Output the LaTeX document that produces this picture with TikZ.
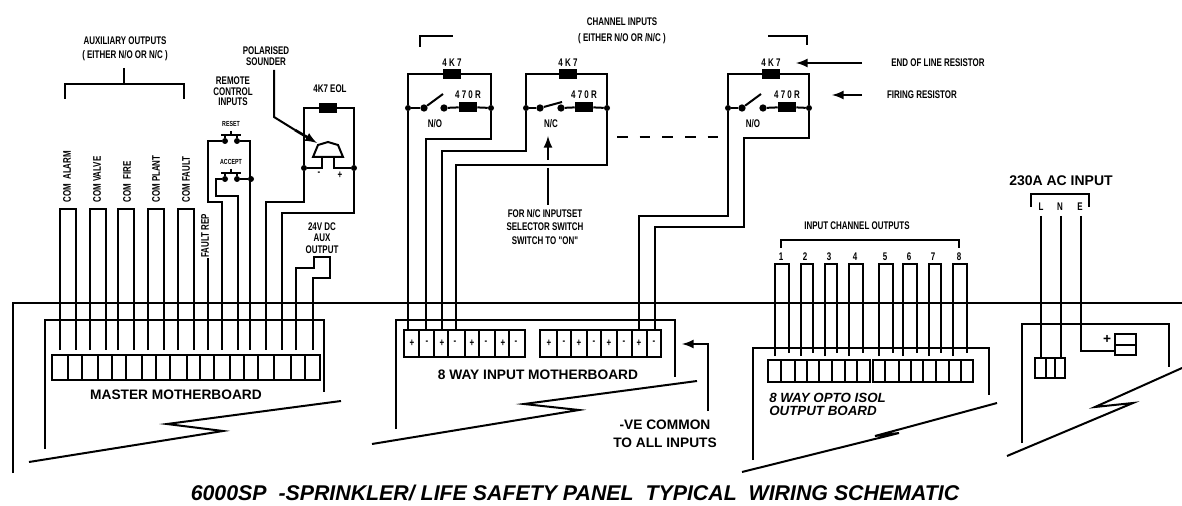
\documentclass[tikz,border=0pt]{standalone}
\usepackage{fontspec}
\setmainfont{Liberation Sans}
\newfontfamily\narrowfont[FakeStretch=0.72]{Liberation Sans}
\usetikzlibrary{positioning}

\begin{document}
\begin{tikzpicture}[x=.75pt,y=-.75pt,
	wire/.style={line width=1.5pt},
	panel/.style={line width=1.9pt},
	arrowline/.style={line width=2pt,-latex},
	res/.style={fill=black,minimum width=13.5pt,minimum height=7pt,inner sep=0pt},
	dot/.style={circle,fill=black,minimum size=4.5pt,inner sep=0pt},
	lbl/.style={font=\narrowfont\bfseries\fontsize{8.3}{9}\selectfont,inner sep=0pt},
	sidelbl/.style={lbl,rotate=90,anchor=west},
	big/.style={font=\bfseries\fontsize{10.3}{11}\selectfont,inner sep=0pt},
	tiny/.style={font=\narrowfont\bfseries\fontsize{5.5}{6}\selectfont,inner sep=0pt},
	slant/.style={font=\bfseries\itshape\fontsize{10}{11}\selectfont,inner sep=0pt,anchor=west}]
	\useasboundingbox (0,0) rectangle (1182,506);

	\node[font=\bfseries\itshape\fontsize{16}{17}\selectfont] (title) at (575,493) {6000SP\ \ -SPRINKLER/ LIFE SAFETY PANEL\ \ TYPICAL\ \ WIRING SCHEMATIC};

	\coordinate (pl) at (13,473);
	\coordinate (pr) at (1182,303);
	\draw[panel] (pl) |- (pr);

	\node[lbl] (aux) at (125,41) {AUXILIARY OUTPUTS};
	\node[lbl] (auxb) [below=4pt of aux] {( EITHER N/O OR N/C )};
	\coordinate (auxs) at (124,68);
	\coordinate (auxj) at (124,84);
	\coordinate (auxl) at (65,99);
	\coordinate (auxr) at (184,99);
	\draw[wire] (auxs) -- (auxj);
	\draw[wire] (auxl) |- (auxj) -| (auxr);

	\foreach \n/\t/\x in {1/COM\ \ ALARM/67,2/COM VALVE/97,3/COM\ \ FIRE/127,4/COM PLANT/156,5/COM FAULT/186}
		\node[sidelbl] (com\n) at (\x,203) {\t};
	\node[sidelbl] (frep) at (205,258) {FAULT REP};

	\foreach \x [count=\i] in {60,76,90,106,118,134,148,164,178,194,208,222,238,250,266,282,296,313}
		\coordinate (m\i) at (\x,350);
	\coordinate (mtop) at (0,209);
	\foreach \a/\b in {1/2,3/4,5/6,7/8,9/10}
		\draw[wire] (m\a) -- (m\a |- mtop) -- (m\b |- mtop) -- (m\b);
	\draw[wire] (m11) -- (frep.west -| m11);

	\node[lbl] (rem) at (233,81) {REMOTE};
	\node[lbl] (cont) [below=1.5pt of rem] {CONTROL};
	\node[lbl] (inp) [below=1.5pt of cont] {INPUTS};
	\node[tiny] (rst) at (231,124) {RESET};
	\node[tiny] (acc) at (231,162) {ACCEPT};
	\node[dot] (rs1) at (225,141) {};
	\node[dot] (rs2) at (237,141) {};
	\node[dot] (ac1) at (225,179) {};
	\node[dot] (ac2) at (237,179) {};
	\node[dot] (acj) at (251,179) {};
	\foreach \y in {135,173} {
		\draw[wire] (221,\y) -- (241,\y);
		\draw[wire] (231,\y-4) -- (231,\y);
		\draw[line width=.9pt] (225,\y) -- (225,\y+3) (237,\y) -- (237,\y+3);
	}
	\draw[wire] (rs1) -- (208,141) -- (208,202) -- (222,202) -- (m12);
	\draw[wire] (rs2) -| (m14);
	\draw[wire] (ac1) -- (216,179) -- (216,196) -- (238,196) -- (m13);
	\draw[wire] (ac2) -- (acj);

	\node[lbl] (pol) at (266,51) {POLARISED};
	\node[lbl] (sou) [below=1.5pt of pol] {SOUNDER};
	\node[lbl] (eol) at (330,89) {4K7 EOL};
	\node[res] (reol) at (328,108) {};
	\node[dot] (sl) at (304,168) {};
	\node[dot] (sr) at (354,168) {};
	\draw[wire] (sl) |- (reol) -| (sr);
	\draw[wire] (313,157) -- (318,145) -- (328,142) -- (338,145) -- (343,157) -- cycle;
	\draw[wire] (sl) -- (322,168) -- (322,157);
	\draw[wire] (sr) -- (334,168) -- (334,157);
	\coordinate (polk) at (274,70);
	\coordinate (poltip) at (317,143);
	\draw[wire] (polk) -- (274,117) -- (295,130);
	\draw[arrowline] (295,130) -- (poltip);
	\node[lbl] (sminus) at (319,174) {-};
	\node[lbl] (splus) at (340,175) {+};
	\draw[wire] (sl) -- (304,202) -- (266,202) -- (m15);
	\draw[wire] (sr) -- (354,213) -- (282,213) -- (m16);

	\node[lbl] (dc) at (322,227) {24V DC};
	\node[lbl] (dcb) [below=1.5pt of dc] {AUX};
	\node[lbl] (dcc) [below=3pt of dcb] {OUTPUT};
	\coordinate (dcl) at (314,257);
	\coordinate (dcr) at (330,257);
	\draw[wire] (m17) -- (296,268) -- (314,268) -- (dcl) -- (dcr) -- (330,278) -- (313,278) -- (m18);

	\draw[wire] (45,449) -- (45,320) -- (324,320) -- (324,392);
	\draw[wire] (52,355) rectangle (320,380);
	\foreach \x in {68,82,98,112,126,142,156,170,187,200,214,230,244,258,274,291,305}
		\draw[wire] (\x,355) -- (\x,380);
	\node[big] (mm) at (176,395) {MASTER MOTHERBOARD};
	\draw[wire] (29,462) -- (223,431) -- (167,424) -- (341,401);

	\node[lbl] (chan) at (622,22) {CHANNEL INPUTS};
	\node[lbl] (chanb) [below=5pt of chan] {( EITHER N/O OR /N/C )};
	\draw[wire] (420,47) -- (420,36) -- (453,36);
	\draw[wire] (768,36) -- (807,36) -- (807,45);

	\foreach \n/\xl/\xr/\xa/\sa/\sb/\xf/\bx/\by/\t/\tx in {1/408/491/452/424/444/468/443/94/N\slash O/435,2/526/607/568/540/561/584/562/102/N\slash C/551,3/728/809/771/742/763/787/761/94/N\slash O/753} {
		\node[res] (ra\n) at (\xa,74) {};
		\node[res] (rf\n) at (\xf,107) {};
		\node[lbl] (la\n) at (\xa,63) {4 K 7};
		\node[lbl] (lf\n) at (\xf,95) {4 7 0 R};
		\node[lbl] (tag\n) at (\tx,124) {\t};
		\node[dot] (dl\n) at (\xl,108) {};
		\node[dot] (dr\n) at (\xr,108) {};
		\node[dot,minimum size=5.5pt] (sa\n) at (\sa,108) {};
		\node[dot,minimum size=5.5pt] (sb\n) at (\sb,108) {};
		\draw[wire] (dl\n) |- (ra\n) -| (dr\n);
		\draw[wire] (dl\n) -- (sa\n);
		\draw[wire] (sb\n) -- (rf\n) -- (dr\n);
		\draw[wire] (sa\n) -- (\bx,\by);
	}

	\foreach \x [count=\i] in {408,426,442,456,639,655}
		\coordinate (ti\i) at (\x,330);
	\draw[wire] (dl1) -- (ti1);
	\draw[wire] (dr1) -- ++(0,31) -| (ti2);
	\draw[wire] (dl2) -- ++(0,43) -| (ti3);
	\draw[wire] (dr2) -- ++(0,57) -| (ti4);
	\draw[wire] (dl3) -- ++(0,108) -| (ti5);
	\draw[wire] (dr3) -- ++(0,30) -- ++(-65,0) -- ++(0,89) -| (ti6);

	\draw[wire,dash pattern=on 8pt off 9pt] (617,137) -- (718,137);

	\coordinate (nctip) at (548,136);
	\draw[arrowline] (548,160) -- (nctip);
	\draw[wire] (548,168) -- (548,205);
	\node[lbl] (fora) at (545,214) {FOR N/C INPUTSET};
	\node[lbl] (forb) [below=3pt of fora] {SELECTOR SWITCH};
	\node[lbl] (forc) [below=4.5pt of forb] {SWITCH TO "ON"};

	\node[lbl] (eolr) at (938,63) {END OF LINE RESISTOR};
	\node[lbl] (fire) at (922,95) {FIRING RESISTOR};
	\coordinate (eolt) at (796,63);
	\coordinate (eols) at (862,63);
	\coordinate (firt) at (832,95);
	\coordinate (firs) at (862,95);
	\draw[arrowline] (eols) -- (eolt);
	\draw[arrowline] (firs) -- (firt);

	\draw[wire] (396,429) -- (396,320) -- (675,320) -- (675,377);
	\draw[wire] (404,330) rectangle (525,357);
	\draw[wire] (540,330) rectangle (661,357);
	\foreach \x in {419,434,448,465,479,495,509,557,571,587,601,617,632,647}
		\draw[wire] (\x,330) -- (\x,357);
	\foreach \x/\s in {412/+,427/-,442/+,455/-,472/+,486/-,503/+,516/-,549/+,564/-,579/+,594/-,609/+,624/-,639/+,654/-}
		\node[lbl] at (\x,343) {\s};
	\node[big] (imb) at (538,375) {8 WAY INPUT MOTHERBOARD};
	\draw[wire] (372,444) -- (579,410) -- (524,404) -- (697,381);

	\coordinate (vet) at (682,344);
	\node[big] (ve) at (665,425) {-VE COMMON};
	\node[big] (veb) [below=6pt of ve] {TO ALL INPUTS};
	\draw[arrowline] (708,411) |- (vet);

	\node[lbl] (ico) at (857,226) {INPUT CHANNEL OUTPUTS};
	\coordinate (icl) at (781,248);
	\coordinate (icr) at (959,248);
	\draw[wire] (icl) -- (781,240) -- (959,240) -- (icr);
	\foreach \x/\t in {781/1,805/2,829/3,855/4,885/5,909/6,933/7,959/8}
		\node[lbl] at (\x,257) {\t};
	\foreach \a/\b in {775/789,801/813,825/837,849/863,879/893,903/917,929/941,953/967}
		\draw[wire] (\a,356) -- (\a,264) -- (\b,264) -- (\b,353);
	\draw[wire] (753,460) -- (753,348) -- (989,348) -- (989,395);
	\draw[wire] (768,360) rectangle (870,382);
	\draw[wire] (873,360) rectangle (973,382);
	\foreach \x in {781,795,807,819,832,845,857,885,899,911,923,936,949,961}
		\draw[wire] (\x,360) -- (\x,382);
	\node[slant] (opto) at (769,398) {8 WAY OPTO ISOL};
	\node[slant] (optob) at (769,411) {OUTPUT BOARD};
	\draw[wire] (742,472) -- (899,433) -- (875,436) -- (997,403);

	\node[big,font=\bfseries\fontsize{10.5}{11}\selectfont] (ac) at (1061,181) {230A AC INPUT};
	\draw[wire] (1031,207) -- (1031,194) -- (1089,194) -- (1089,207);
	\node[lbl] (acL) at (1041,207) {L};
	\node[lbl] (acN) at (1060,207) {N};
	\node[lbl] (acE) at (1080,207) {E};
	\coordinate (tL) at (1041,358);
	\coordinate (tN) at (1061,358);
	\coordinate (bat) at (1115,351);
	\draw[wire] (tL |- 0,216) -- (tL);
	\draw[wire] (tN |- 0,216) -- (tN);
	\draw[wire] (1081,216) |- (bat);
	\draw[wire] (1022,443) -- (1022,324) -- (1169,324) -- (1169,367);
	\draw[wire] (1035,358) rectangle (1065,378);
	\draw[wire] (1046,358) -- (1046,378) (1055,358) -- (1055,378);
	\draw[wire] (1115,334) rectangle (1136,355);
	\draw[wire] (1115,345) -- (1136,345);
	\node[big] (bplus) at (1107,339) {+};
	\draw[wire] (1007,456) -- (1133,403) -- (1095,407) -- (1182,368);
\end{tikzpicture}
\end{document}
